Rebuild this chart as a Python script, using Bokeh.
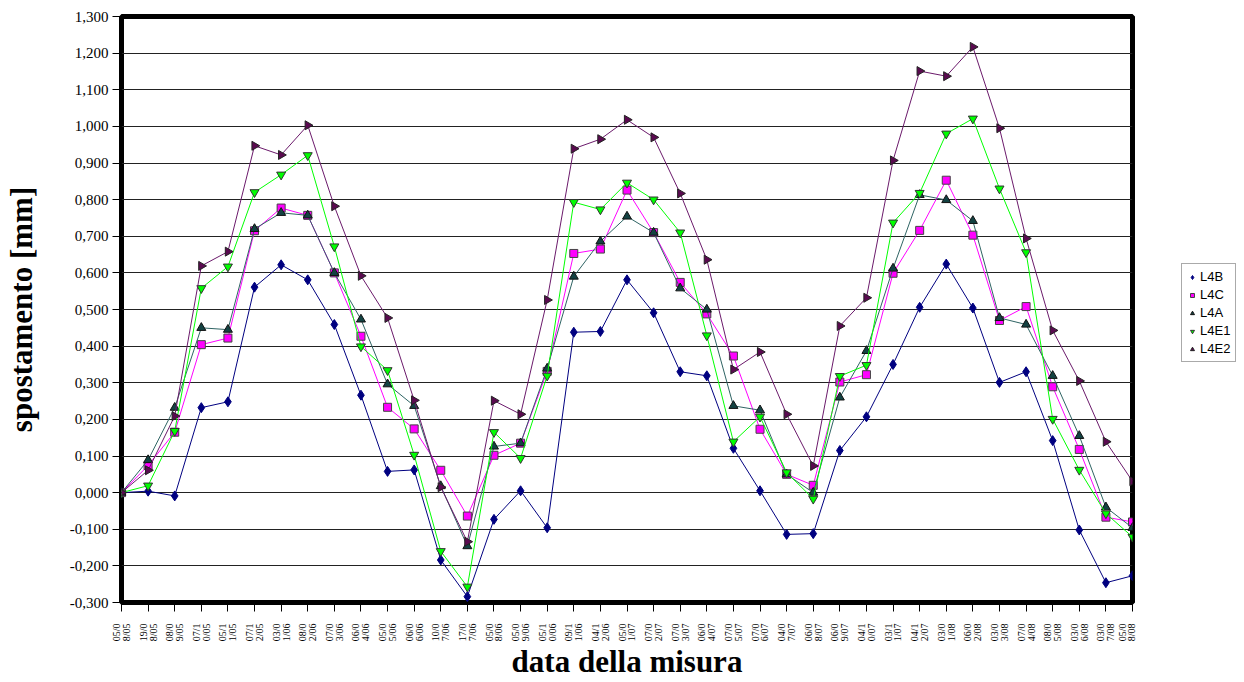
import numpy as np
from bokeh.plotting import figure
from bokeh.layouts import row
from bokeh.models import Range1d, FixedTicker, Legend, LegendItem, CustomJSTickFormatter
from bokeh.embed import file_html
from bokeh.resources import INLINE

dates = ["05/08/05", "19/08/05", "08/09/05", "07/10/05", "05/11/05", "07/12/05",
         "03/01/06", "08/02/06", "07/03/06", "06/04/06", "05/05/06", "06/06/06",
         "10/07/06", "17/07/06", "05/08/06", "05/09/06", "05/10/06", "09/11/06",
         "04/12/06", "05/01/07", "07/02/07", "07/03/07", "06/04/07", "07/05/07",
         "07/06/07", "04/07/07", "06/08/07", "06/09/07", "04/10/07", "03/11/07",
         "04/12/07", "03/01/08", "06/02/08", "03/03/08", "07/04/08", "08/05/08",
         "03/06/08", "03/07/08", "05/08/08"]

L4B = [0.000, 0.004, -0.009, 0.232, 0.248, 0.561, 0.622, 0.581, 0.459, 0.266,
       0.058, 0.062, -0.184, -0.284, -0.073, 0.005, -0.096, 0.438, 0.440, 0.581,
       0.491, 0.330, 0.319, 0.121, 0.005, -0.114, -0.112, 0.115, 0.207, 0.350,
       0.506, 0.624, 0.504, 0.301, 0.330, 0.142, -0.102, -0.246, -0.227]
L4C = [0.000, 0.074, 0.165, 0.404, 0.422, 0.715, 0.777, 0.757, 0.600, 0.427,
       0.233, 0.174, 0.061, -0.064, 0.102, 0.135, 0.331, 0.653, 0.665, 0.826,
       0.710, 0.574, 0.488, 0.373, 0.173, 0.050, 0.020, 0.302, 0.322, 0.599,
       0.716, 0.853, 0.703, 0.470, 0.508, 0.289, 0.118, -0.067, -0.080]
L4A = [0.000, 0.089, 0.232, 0.450, 0.445, 0.720, 0.764, 0.757, 0.600, 0.473,
       0.296, 0.237, 0.018, -0.146, 0.126, 0.135, 0.339, 0.590, 0.686, 0.754,
       0.710, 0.558, 0.500, 0.237, 0.225, 0.050, 0.000, 0.260, 0.387, 0.612,
       0.813, 0.799, 0.742, 0.477, 0.459, 0.319, 0.155, -0.040, -0.096]
L4E1 = [0.000, 0.019, 0.168, 0.558, 0.617, 0.820, 0.868, 0.921, 0.672, 0.399,
        0.334, 0.103, -0.160, -0.257, 0.165, 0.094, 0.319, 0.793, 0.773, 0.846,
        0.800, 0.710, 0.429, 0.139, 0.207, 0.055, -0.017, 0.318, 0.348, 0.737,
        0.818, 0.980, 1.021, 0.830, 0.656, 0.201, 0.062, -0.057, -0.121]
L4E2 = [0.000, 0.061, 0.209, 0.619, 0.658, 0.947, 0.922, 1.003, 0.782, 0.592,
        0.477, 0.252, 0.015, -0.134, 0.251, 0.214, 0.526, 0.939, 0.965, 1.018,
        0.970, 0.817, 0.636, 0.336, 0.384, 0.214, 0.073, 0.455, 0.532, 0.907,
        1.151, 1.137, 1.217, 0.995, 0.694, 0.443, 0.305, 0.139, 0.031]

y_ticks = [-0.3, -0.2, -0.1, 0.0, 0.1, 0.2, 0.3, 0.4, 0.5, 0.6, 0.7, 0.8,
           0.9, 1.0, 1.1, 1.2, 1.3]

x = list(range(len(dates)))
x_labels = {i: d[:4] + "\n" + d[4:] for i, d in enumerate(dates)}

p = figure(width=1137, height=682, output_backend="svg", toolbar_location=None,
           x_range=Range1d(0, len(dates) - 1), y_range=Range1d(-0.3, 1.3))
p.min_border_left = 117
p.min_border_top = 16
p.min_border_right = 5
p.min_border_bottom = 77
p.background_fill_color = "white"
p.border_fill_color = "white"
p.outline_line_color = "black"
p.outline_line_width = 5

p.xgrid.grid_line_color = None
p.ygrid.grid_line_color = "#222222"
p.ygrid.grid_line_width = 1
p.ygrid.ticker = FixedTicker(ticks=y_ticks)

p.yaxis.ticker = FixedTicker(ticks=y_ticks)
p.yaxis.formatter = CustomJSTickFormatter(code="return tick.toFixed(3).replace('.', ',');")
p.yaxis.major_label_text_font = "Liberation Serif"
p.yaxis.major_label_text_font_size = "15px"
p.yaxis.major_label_text_color = "black"
p.yaxis.major_tick_out = 9
p.yaxis.major_tick_in = 0
p.yaxis.major_tick_line_color = "black"
p.yaxis.minor_tick_line_color = None
p.yaxis.axis_line_color = None
p.yaxis.major_label_standoff = 4
p.yaxis.axis_label = "spostamento [mm]"
p.yaxis.axis_label_text_font = "Liberation Serif"
p.yaxis.axis_label_text_font_style = "bold"
p.yaxis.axis_label_text_font_size = "31px"
p.yaxis.axis_label_text_color = "black"
p.yaxis.axis_label_standoff = 28

p.xaxis.ticker = FixedTicker(ticks=x)
p.xaxis.major_label_overrides = x_labels
p.xaxis.major_label_orientation = np.pi / 2
p.xaxis.major_label_text_font = "Liberation Serif"
p.xaxis.major_label_text_font_size = "10px"
p.xaxis.major_label_text_line_height = 0.9
p.xaxis.major_label_text_color = "black"
p.xaxis.major_tick_out = 9
p.xaxis.major_tick_in = 0
p.xaxis.major_tick_line_color = "black"
p.xaxis.minor_tick_line_color = None
p.xaxis.axis_line_color = None
p.xaxis.major_label_standoff = 12
p.xaxis.axis_label = "data della misura"
p.xaxis.axis_label_text_font = "Liberation Serif"
p.xaxis.axis_label_text_font_style = "bold"
p.xaxis.axis_label_text_font_size = "31px"
p.xaxis.axis_label_text_color = "black"
p.xaxis.axis_label_standoff = 0

series = [
    ("L4B", L4B, "#000080", "diamond", "#000080", "#000080", 10, 0.0),
    ("L4C", L4C, "#FF00FF", "square", "#FF00FF", "#444444", 8, 0.0),
    ("L4A", L4A, "#2F6464", "triangle", "#134242", "#111111", 9, 0.0),
    ("L4E1", L4E1, "#00FF00", "inverted_triangle", "#00FF00", "#333333", 9, 0.0),
    ("L4E2", L4E2, "#6B1A6B", "triangle", "#5A0A50", "#222222", 9, -np.pi / 2),
]

# legend lives in a narrow companion figure to the right of the plot;
# its ranges are set away from the data so its stand-in glyphs stay hidden
p2 = figure(width=107, height=682, output_backend="svg", toolbar_location=None,
            x_range=Range1d(100, 101), y_range=Range1d(100, 101),
            x_axis_location=None, y_axis_location=None)
p2.min_border = 0
p2.outline_line_color = None
p2.grid.visible = False
p2.background_fill_color = "white"
p2.border_fill_color = "white"

items = []
for name, ys, lc, mk, fc, oc, sz, ang in series:
    p.line(x, ys, line_color=lc, line_width=1)
    p.scatter(x, ys, marker=mk, size=sz, fill_color=fc, line_color=oc,
              line_width=1, angle=ang)
    r = p2.scatter(x[:1], ys[:1], marker=mk, size=sz, fill_color=fc, line_color=oc,
                   line_width=1, angle=ang)
    items.append(LegendItem(label=name, renderers=[r]))

legend = Legend(items=items, location=(44, 240))
legend.margin = 0
legend.padding = 5
legend.spacing = 3
legend.glyph_width = 10
legend.glyph_height = 14
legend.label_standoff = 3
legend.label_text_font = "Liberation Sans"
legend.label_text_font_size = "13px"
legend.label_text_color = "black"
legend.label_height = 13
legend.border_line_color = "#555555"
legend.border_line_width = 1
legend.background_fill_color = "white"
p2.add_layout(legend, "center")

layout = row(p, p2)
open("out.html", "w").write(file_html(layout, INLINE))
